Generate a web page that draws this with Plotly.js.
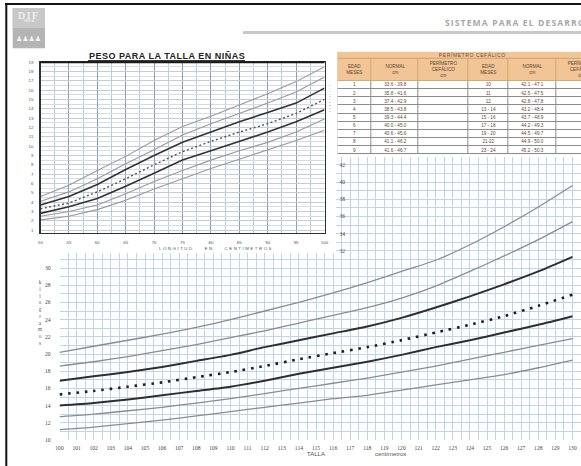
<!DOCTYPE html>
<html>
<head>
<meta charset="utf-8">
<script src="https://cdn.plot.ly/plotly-3.0.1.min.js"></script>
<style>
html,body{margin:0;padding:0;overflow:hidden;background:#fff;}
#chart{width:640px;height:466px;}
</style>
</head>
<body>
<div id="chart"></div>
<script>
// ---------- Peso para la talla en niñas (50–100 cm) ----------
const longitud = [50, 55, 60, 65, 70, 75, 80, 85, 90, 95, 100];
const pesoL1 = [4.6, 5.8, 7.4, 8.9, 10.6, 12.1, 13.2, 14.4, 15.6, 16.9, 18.5];
const pesoL2 = [4.1, 5.1, 6.5, 8.1, 9.6, 11.2, 12.4, 13.5, 14.6, 15.8, 17.4];
const pesoL3 = [3.7, 4.6, 5.9, 7.5, 9.0, 10.4, 11.5, 12.6, 13.6, 14.6, 16.2];
const pesoL4 = [3.3, 3.9, 5.1, 6.5, 8.0, 9.4, 10.5, 11.5, 12.4, 13.5, 15.0];
const pesoL5 = [2.8, 3.5, 4.4, 5.7, 7.1, 8.5, 9.5, 10.5, 11.5, 12.6, 13.9];
const pesoL6 = [2.5, 3.0, 3.7, 4.9, 6.2, 7.4, 8.5, 9.5, 10.4, 11.5, 12.9];
const pesoL7 = [2.1, 2.5, 3.2, 4.2, 5.4, 6.5, 7.6, 8.6, 9.6, 10.6, 11.7];
const ticksLongitud = [50, 55, 60, 65, 70, 75, 80, 85, 90, 95, 100];
const ticksPesoL = [1,2,3,4,5,6,7,8,9,10,11,12,13,14,15,16,17,18,19];

// ---------- Peso para la talla (100–130 cm) ----------
const talla = [100, 102, 104, 106, 108, 110, 112, 114, 116, 118, 120, 122, 124, 126, 128, 130];
const pesoT1 = [20.2, 20.9, 21.6, 22.3, 23.1, 24.0, 25.0, 26.0, 27.1, 28.3, 29.6, 30.9, 32.7, 34.8, 37.1, 39.6];
const pesoT2 = [18.6, 19.1, 19.7, 20.4, 21.1, 21.9, 22.7, 23.6, 24.5, 25.4, 26.5, 27.9, 29.6, 31.4, 33.3, 35.4];
const pesoT3 = [16.9, 17.4, 17.9, 18.5, 19.2, 19.9, 20.8, 21.6, 22.4, 23.2, 24.2, 25.4, 26.7, 28.1, 29.6, 31.3];
const pesoT4 = [15.3, 15.7, 16.2, 16.7, 17.3, 17.9, 18.6, 19.4, 20.1, 20.8, 21.6, 22.5, 23.4, 24.4, 25.6, 26.9];
const pesoT5 = [14.0, 14.3, 14.7, 15.2, 15.7, 16.2, 16.9, 17.7, 18.4, 19.1, 19.9, 20.8, 21.6, 22.5, 23.4, 24.4];
const pesoT6 = [12.7, 13.0, 13.4, 13.8, 14.3, 14.8, 15.4, 16.0, 16.6, 17.2, 17.9, 18.6, 19.4, 20.2, 21.0, 21.8];
const pesoT7 = [11.2, 11.5, 11.9, 12.3, 12.8, 13.3, 13.8, 14.3, 14.8, 15.2, 15.8, 16.4, 17.0, 17.6, 18.4, 19.3];
const ticksTalla = [100,101,102,103,104,105,106,107,108,109,110,111,112,113,114,115,116,117,118,119,120,121,122,123,124,125,126,127,128,129,130];
const ticksPesoT = [10, 12, 14, 16, 18, 20, 22, 24, 26, 28, 30];
const ticksPesoTAlto = [32, 34, 36, 38, 40, 42];

// ---------- Perímetro cefálico ----------
const encabezados = ['EDAD<br>MESES', 'NORMAL<br>cm', 'PERÍMETRO<br>CEFÁLICO<br>cm', 'EDAD<br>MESES', 'NORMAL<br>cm', 'PERÍMETRO<br>CEFÁLICO<br>cm'];
const edadA = ['1', '2', '3', '4', '5', '6', '7', '8', '9'];
const normalMinA = [33.6, 35.8, 37.4, 38.5, 39.3, 40.0, 40.6, 41.1, 41.6];
const normalMaxA = [39.8, 41.6, 42.9, 43.8, 44.4, 45.0, 45.6, 46.2, 46.7];
const edadB = ['10', '11', '12', '13 - 14', '15 - 16', '17 - 18', '19 - 20', '21-22', '23 - 24'];
const normalMinB = [42.1, 42.5, 42.8, 43.2, 43.7, 44.2, 44.5, 44.9, 45.2];
const normalMaxB = [47.1, 47.5, 47.8, 48.4, 48.9, 49.3, 49.7, 50.0, 50.3];

// page geometry helpers (pixels -> paper fractions)
const W = 640, H = 466;
const fx = p => p / W;
const fy = p => 1 - p / H;
const spaced = (t, ls) => '<span style="letter-spacing:' + ls + 'px">' + t + '</span>';

const gridBlue = '#bdd4ee';
const thin = {color: '#8c8c8c', width: 1.3};
const thick = {color: '#2e2e2e', width: 2.0};
const dotted = {color: '#1e1e1e', width: 2.6, dash: '2.6px,5.8px'};

function curve(x, y, line, xa, ya, shape) {
  return {type: 'scatter', mode: 'lines', x: x, y: y, xaxis: xa, yaxis: ya,
          line: Object.assign({shape: shape || 'linear', smoothing: 0.6}, line),
          hoverinfo: 'skip'};
}

const traces = [];
// large chart
[[pesoT1, thin], [pesoT2, thin], [pesoT3, thick], [pesoT4, dotted],
 [pesoT5, thick], [pesoT6, thin], [pesoT7, thin]].forEach(([y, ln]) =>
  traces.push(curve(talla, y, ln, 'x', 'y', 'spline')));
// secondary label axis for the upper part of the large chart
traces.push({type: 'scatter', x: [], y: [], xaxis: 'x', yaxis: 'y5', hoverinfo: 'skip'});
// blank panel behind the small chart
traces.push({type: 'scatter', x: [], y: [], xaxis: 'x2', yaxis: 'y2', hoverinfo: 'skip'});
// small chart
const sThin = {color: '#9a9a9a', width: 1.1};
const sThick = {color: '#333333', width: 1.6};
const sDot = {color: '#555555', width: 1.4, dash: '2px,2.4px'};
[[pesoL1, sThin], [pesoL2, sThin], [pesoL3, sThick], [pesoL4, sDot],
 [pesoL5, sThick], [pesoL6, sThin], [pesoL7, sThin]].forEach(([y, ln]) =>
  traces.push(curve(longitud, y, ln, 'x3', 'y3')));

// head-circumference table drawn as heatmap bricks
const colWidths = [34.4, 46.6, 50, 40, 48.4, 50];
const colEdges = [0];
colWidths.forEach(w => colEdges.push(colEdges[colEdges.length - 1] + w));
const titleH = 7.3, headH = 22, rowH = 8.145;
const rowEdges = [titleH, titleH + headH];
edadA.forEach(() => rowEdges.push(rowEdges[rowEdges.length - 1] + rowH));
const tableBottom = rowEdges[rowEdges.length - 1];
const tableWidth = colEdges[colEdges.length - 1];

const rango = (a, b) => a.toFixed(1) + ' - ' + b.toFixed(1);
const tablaTexto = [encabezados];
const tablaZ = [encabezados.map(() => 1)];
edadA.forEach((e, i) => {
  tablaTexto.push([e, rango(normalMinA[i], normalMaxA[i]), ' ', edadB[i], rango(normalMinB[i], normalMaxB[i]), ' ']);
  tablaZ.push([0, 0, 0, 0, 0, 0]);
});
const orange = '#f1c595';
traces.push({
  type: 'heatmap', xaxis: 'x4', yaxis: 'y4',
  x: [0, tableWidth], y: [0, titleH],
  z: [[1]], text: [[spaced('PERÍMETRO CEFÁLICO', 0.6)]], texttemplate: '%{text}',
  textfont: {family: 'Liberation Sans, Arial, sans-serif', size: 5, color: '#6b4a30'},
  colorscale: [[0, '#ffffff'], [1, orange]], zmin: 0, zmax: 1,
  showscale: false, xgap: 1, ygap: 1, hoverinfo: 'skip'
});
traces.push({
  type: 'heatmap', xaxis: 'x4', yaxis: 'y4',
  x: colEdges, y: rowEdges, z: tablaZ, text: tablaTexto, texttemplate: '%{text}',
  textfont: {family: 'Liberation Sans, Arial, sans-serif', size: 4.6, color: '#5b4636'},
  colorscale: [[0, '#ffffff'], [1, orange]], zmin: 0, zmax: 1,
  showscale: false, xgap: 1, ygap: 1, hoverinfo: 'skip'
});

const tickFontBig = {family: 'Liberation Serif, serif', size: 5.6, color: '#444'};
const tickFontSmall = {family: 'Liberation Sans, Arial, sans-serif', size: 4.4, color: '#555'};
const yTopBig = 10 + (440 - 157) / 8.6;

const layout = {
  width: W, height: H,
  margin: {l: 0, r: 0, t: 0, b: 0},
  paper_bgcolor: '#ffffff', plot_bgcolor: '#ffffff',
  showlegend: false,
  font: {family: 'Liberation Sans, Arial, sans-serif', color: '#444'},
  // large chart
  xaxis: {
    domain: [fx(59.5), 1], range: [100, 100 + (W - 59.5) / 17.1], anchor: 'y',
    tickmode: 'array', tickvals: ticksTalla, ticks: '',
    showgrid: true, gridcolor: gridBlue, gridwidth: 1,
    minor: {tickmode: 'linear', dtick: 0.5, tick0: 100, showgrid: true, gridcolor: gridBlue, gridwidth: 1},
    zeroline: false, showline: false,
    tickfont: tickFontBig, ticklabelstandoff: 3
  },
  yaxis: {
    domain: [fy(440), fy(157)], range: [10, yTopBig], anchor: 'x',
    tickmode: 'array', tickvals: ticksPesoT, ticks: '',
    showgrid: true, gridcolor: gridBlue, gridwidth: 1,
    minor: {tickmode: 'linear', dtick: 1, tick0: 10, showgrid: true, gridcolor: gridBlue, gridwidth: 1},
    zeroline: false, showline: false,
    tickfont: tickFontBig, ticklabelstandoff: 8
  },
  yaxis5: {
    overlaying: 'y', anchor: 'free', position: fx(346), side: 'left',
    range: [10, yTopBig], tickmode: 'array', tickvals: ticksPesoTAlto, ticks: '',
    showgrid: false, zeroline: false, showline: false,
    tickfont: tickFontBig, ticklabelstandoff: 1
  },
  // white panel under the small chart
  xaxis2: {domain: [0, fx(336)], range: [0, 1], visible: false, anchor: 'y2'},
  yaxis2: {domain: [fy(253), 1], range: [0, 1], visible: false, anchor: 'x2'},
  // small chart
  xaxis3: {
    domain: [fx(40.5), fx(324.5)], range: [50, 100], anchor: 'y3',
    tickmode: 'array', tickvals: ticksLongitud, ticks: '',
    showgrid: true, gridcolor: '#8b9fc2', gridwidth: 1,
    minor: {tickmode: 'linear', dtick: 2.5, tick0: 50, showgrid: true, gridcolor: '#b9cae3', gridwidth: 1},
    zeroline: false, showline: true, mirror: true, linecolor: '#333', linewidth: 1.2,
    tickfont: tickFontSmall, ticklabelstandoff: 5
  },
  yaxis3: {
    domain: [fy(233), fy(62)], range: [0.7, 19], anchor: 'x3',
    tickmode: 'array', tickvals: ticksPesoL, ticks: '',
    showgrid: true, gridcolor: '#c3ccd9', gridwidth: 1,
    minor: {tickmode: 'linear', dtick: 0.5, tick0: 0, showgrid: true, gridcolor: '#d6dde7', gridwidth: 1},
    zeroline: false, showline: true, mirror: true, linecolor: '#333', linewidth: 1.2,
    tickfont: tickFontSmall, ticklabelstandoff: 5
  },
  // table
  xaxis4: {domain: [fx(337.3), fx(337.3 + tableWidth)], range: [0, tableWidth], visible: false, anchor: 'y4'},
  yaxis4: {domain: [fy(51.7 + tableBottom), fy(51.7)], range: [tableBottom, 0], visible: false, anchor: 'x4'},
  shapes: [
    // page frame
    {type: 'line', xref: 'paper', yref: 'paper', x0: fx(5), x1: 1, y0: fy(4), y1: fy(4), line: {color: '#111', width: 2}},
    {type: 'line', xref: 'paper', yref: 'paper', x0: fx(6.3), x1: fx(6.3), y0: fy(3), y1: 0, line: {color: '#111', width: 2}},
    // header rule
    {type: 'line', xref: 'paper', yref: 'paper', x0: fx(243), x1: 1, y0: fy(32.5), y1: fy(32.5), line: {color: '#c9c9c9', width: 3}},
    // logo block
    {type: 'rect', xref: 'paper', yref: 'paper', x0: fx(12.7), x1: fx(45), y0: fy(48.3), y1: fy(8.3), fillcolor: '#b4b4b4', line: {width: 0}},
    {type: 'rect', xref: 'paper', yref: 'paper', x0: fx(12.7), x1: fx(45), y0: fy(28), y1: fy(8.3), fillcolor: '#c8c8c8', line: {width: 0}},
    // title underline
    {type: 'line', xref: 'paper', yref: 'paper', x0: fx(88), x1: fx(245), y0: fy(60.6), y1: fy(60.6), line: {color: '#222', width: 1}},
    // heavier top frame of the small chart
    {type: 'line', xref: 'paper', yref: 'paper', x0: fx(40.5), x1: fx(324.5), y0: fy(62.3), y1: fy(62.3), line: {color: '#1a1a1a', width: 2}},
    // table rules (seen through the cell gaps)
    {type: 'rect', xref: 'x4', yref: 'y4', layer: 'below', x0: 0, x1: tableWidth, y0: 0, y1: titleH + headH, fillcolor: '#d6a873', line: {width: 0}},
    {type: 'rect', xref: 'x4', yref: 'y4', layer: 'below', x0: 0, x1: tableWidth, y0: titleH + headH, y1: tableBottom, fillcolor: '#8c8c8c', line: {width: 0}}
  ],
  annotations: [
    {xref: 'paper', yref: 'paper', x: fx(443), y: fy(23), xanchor: 'left', yanchor: 'middle', showarrow: false,
     text: '<b>' + spaced('SISTEMA PARA EL DESARROLLO INTEGRAL DE LA FAMILIA', 1.1) + '</b>',
     font: {family: 'Open Sans, Liberation Sans, sans-serif', size: 8.6, color: '#a8a8a8'}},
    {xref: 'paper', yref: 'paper', x: fx(28.8), y: fy(15.5), xanchor: 'center', yanchor: 'middle', showarrow: false,
     text: '<b>' + spaced('DIF', 1.5) + '</b>', font: {family: 'Liberation Serif, serif', size: 10, color: '#efefef'}},
    {xref: 'paper', yref: 'paper', x: fx(28.8), y: fy(21.5), xanchor: 'center', yanchor: 'middle', showarrow: false,
     text: 'FAMILIA', font: {size: 2.6, color: '#f4f4f4'}},
    {xref: 'paper', yref: 'paper', x: fx(28.8), y: fy(39.5), xanchor: 'center', yanchor: 'middle', showarrow: false,
     text: '♟♟♟♟', font: {family: 'DejaVu Sans', size: 7, color: '#f2f2f2'}},
    {xref: 'paper', yref: 'paper', x: fx(166.5), y: fy(56.4), xanchor: 'center', yanchor: 'middle', showarrow: false,
     text: '<b>' + spaced('PESO PARA LA TALLA EN NIÑAS', 0.5) + '</b>', font: {family: 'Liberation Sans, Arial, sans-serif', size: 9, color: '#222'}},
    {xref: 'paper', yref: 'paper', x: fx(216), y: fy(248.3), xanchor: 'center', yanchor: 'middle', showarrow: false,
     text: spaced('LONGITUD &nbsp;&nbsp; EN &nbsp;&nbsp; CENTIMETROS', 1.5), font: {size: 4.4, color: '#555'}},
    {xref: 'paper', yref: 'paper', x: fx(330), y: fy(98), xanchor: 'center', yanchor: 'middle', showarrow: false,
     text: 'kilogramos'.split('').join('<br>'), font: {size: 2.2, color: '#555'}},
    {xref: 'paper', yref: 'paper', x: fx(40), y: fy(312), xanchor: 'center', yanchor: 'middle', showarrow: false,
     text: 'kilogramos'.split('').join('<br>'), font: {family: 'Liberation Serif, serif', size: 5.2, color: '#555'}},
    {xref: 'paper', yref: 'paper', x: fx(316), y: fy(454), xanchor: 'center', yanchor: 'middle', showarrow: false,
     text: 'TALLA', font: {size: 6, color: '#555'}},
    {xref: 'paper', yref: 'paper', x: fx(390), y: fy(454), xanchor: 'center', yanchor: 'middle', showarrow: false,
     text: 'centímetros', font: {size: 6, color: '#555'}}
  ]
};

Plotly.newPlot('chart', traces, layout, {staticPlot: true, displayModeBar: false});
</script>
</body>
</html>
